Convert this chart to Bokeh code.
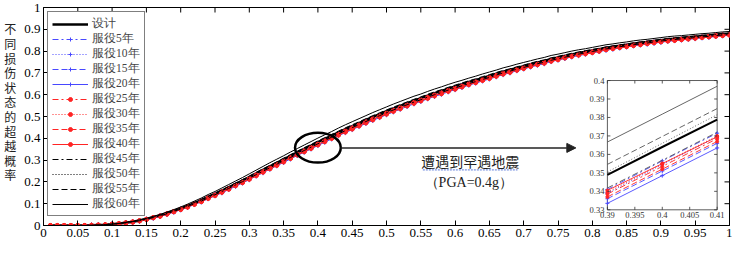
import numpy as np
from bokeh.plotting import figure
from bokeh.models import (Range1d, FixedTicker, Legend, LegendItem,
                          Label, Arrow, NormalHead)
from bokeh.core.properties import value
from bokeh.embed import file_html
from bokeh.resources import INLINE

# ---------------- data ----------------
pga = np.round(np.arange(1, 101) * 0.01, 2)   # 0.01 ... 1.00

design = [0.0, 0.0, 0.0, 0.0, 0.0, 0.0, 0.001, 0.002, 0.003, 0.006,
          0.009, 0.013, 0.017, 0.023, 0.030, 0.038, 0.046, 0.056, 0.067, 0.078,
          0.090, 0.103, 0.116, 0.131, 0.145, 0.160, 0.175, 0.191, 0.206, 0.222,
          0.239, 0.255, 0.271, 0.287, 0.303, 0.319, 0.335, 0.351, 0.366, 0.382,
          0.397, 0.412, 0.427, 0.442, 0.456, 0.470, 0.484, 0.498, 0.511, 0.524,
          0.537, 0.549, 0.561, 0.573, 0.584, 0.596, 0.607, 0.617, 0.628, 0.638,
          0.648, 0.658, 0.667, 0.677, 0.686, 0.696, 0.706, 0.714, 0.723, 0.731,
          0.740, 0.748, 0.755, 0.764, 0.771, 0.778, 0.785, 0.791, 0.797, 0.803,
          0.809, 0.815, 0.820, 0.825, 0.829, 0.834, 0.838, 0.842, 0.846, 0.850,
          0.854, 0.857, 0.860, 0.863, 0.866, 0.869, 0.872, 0.875, 0.878, 0.880]

y05 = [0.0, 0.0, 0.0, 0.0, 0.0, 0.0, 0.001, 0.002, 0.003, 0.006,
       0.009, 0.012, 0.016, 0.022, 0.029, 0.036, 0.044, 0.054, 0.064, 0.075,
       0.087, 0.099, 0.112, 0.127, 0.140, 0.155, 0.170, 0.185, 0.200, 0.216,
       0.233, 0.248, 0.264, 0.280, 0.296, 0.311, 0.327, 0.343, 0.358, 0.374,
       0.389, 0.404, 0.419, 0.434, 0.448, 0.462, 0.476, 0.490, 0.503, 0.516,
       0.529, 0.541, 0.553, 0.565, 0.576, 0.588, 0.599, 0.609, 0.620, 0.630,
       0.640, 0.650, 0.659, 0.669, 0.679, 0.689, 0.699, 0.707, 0.716, 0.724,
       0.733, 0.741, 0.748, 0.757, 0.765, 0.772, 0.779, 0.785, 0.791, 0.797,
       0.803, 0.809, 0.814, 0.819, 0.823, 0.829, 0.833, 0.837, 0.841, 0.845,
       0.849, 0.852, 0.855, 0.858, 0.861, 0.865, 0.868, 0.871, 0.874, 0.876]

y10 = [0.0, 0.0, 0.0, 0.0, 0.0, 0.0, 0.001, 0.002, 0.003, 0.006,
       0.008, 0.012, 0.016, 0.022, 0.028, 0.036, 0.044, 0.053, 0.064, 0.075,
       0.086, 0.099, 0.111, 0.126, 0.140, 0.154, 0.169, 0.185, 0.199, 0.215,
       0.232, 0.247, 0.263, 0.279, 0.295, 0.311, 0.326, 0.342, 0.357, 0.373,
       0.388, 0.403, 0.418, 0.433, 0.447, 0.461, 0.475, 0.489, 0.502, 0.515,
       0.528, 0.540, 0.552, 0.564, 0.575, 0.587, 0.598, 0.608, 0.619, 0.629,
       0.639, 0.649, 0.658, 0.669, 0.678, 0.688, 0.698, 0.706, 0.715, 0.723,
       0.732, 0.740, 0.747, 0.757, 0.764, 0.771, 0.778, 0.784, 0.790, 0.796,
       0.802, 0.808, 0.814, 0.819, 0.823, 0.828, 0.832, 0.836, 0.840, 0.844,
       0.848, 0.852, 0.855, 0.858, 0.861, 0.864, 0.867, 0.870, 0.873, 0.875]

y15 = [0.0, 0.0, 0.0, 0.0, 0.0, 0.0, 0.001, 0.002, 0.003, 0.006,
       0.008, 0.012, 0.016, 0.021, 0.028, 0.035, 0.043, 0.052, 0.063, 0.073,
       0.085, 0.097, 0.110, 0.124, 0.138, 0.152, 0.167, 0.182, 0.197, 0.213,
       0.229, 0.245, 0.261, 0.276, 0.292, 0.308, 0.323, 0.339, 0.354, 0.370,
       0.385, 0.400, 0.415, 0.430, 0.444, 0.458, 0.471, 0.485, 0.498, 0.512,
       0.525, 0.537, 0.549, 0.561, 0.572, 0.584, 0.595, 0.605, 0.616, 0.626,
       0.636, 0.646, 0.656, 0.666, 0.675, 0.685, 0.695, 0.703, 0.712, 0.721,
       0.730, 0.738, 0.745, 0.754, 0.761, 0.768, 0.776, 0.782, 0.788, 0.794,
       0.800, 0.806, 0.811, 0.817, 0.821, 0.826, 0.830, 0.834, 0.838, 0.842,
       0.847, 0.850, 0.853, 0.856, 0.859, 0.862, 0.865, 0.869, 0.872, 0.874]

y20 = [0.0, 0.0, 0.0, 0.0, 0.0, 0.0, 0.001, 0.002, 0.003, 0.005,
       0.008, 0.012, 0.015, 0.021, 0.027, 0.035, 0.042, 0.051, 0.062, 0.072,
       0.084, 0.096, 0.108, 0.123, 0.136, 0.150, 0.165, 0.180, 0.195, 0.210,
       0.227, 0.242, 0.258, 0.274, 0.289, 0.305, 0.321, 0.336, 0.351, 0.367,
       0.382, 0.397, 0.412, 0.426, 0.440, 0.454, 0.468, 0.482, 0.495, 0.508,
       0.521, 0.533, 0.546, 0.558, 0.569, 0.581, 0.592, 0.602, 0.613, 0.623,
       0.633, 0.644, 0.653, 0.663, 0.672, 0.682, 0.692, 0.700, 0.710, 0.718,
       0.727, 0.735, 0.742, 0.752, 0.759, 0.766, 0.773, 0.779, 0.786, 0.792,
       0.798, 0.804, 0.809, 0.814, 0.819, 0.824, 0.828, 0.832, 0.836, 0.841,
       0.845, 0.848, 0.851, 0.854, 0.857, 0.861, 0.864, 0.867, 0.870, 0.872]

y25 = [0.0, 0.0, 0.0, 0.0, 0.0, 0.0, 0.001, 0.002, 0.003, 0.006,
       0.008, 0.012, 0.016, 0.021, 0.028, 0.036, 0.043, 0.053, 0.063, 0.074,
       0.085, 0.098, 0.110, 0.125, 0.138, 0.153, 0.168, 0.183, 0.198, 0.213,
       0.230, 0.246, 0.261, 0.277, 0.293, 0.309, 0.324, 0.340, 0.355, 0.371,
       0.386, 0.401, 0.416, 0.431, 0.445, 0.459, 0.472, 0.486, 0.499, 0.513,
       0.526, 0.538, 0.550, 0.562, 0.573, 0.585, 0.596, 0.606, 0.617, 0.627,
       0.637, 0.647, 0.657, 0.667, 0.676, 0.686, 0.696, 0.704, 0.713, 0.721,
       0.731, 0.739, 0.746, 0.755, 0.762, 0.769, 0.776, 0.783, 0.789, 0.795,
       0.801, 0.807, 0.812, 0.817, 0.821, 0.827, 0.831, 0.835, 0.839, 0.843,
       0.847, 0.850, 0.853, 0.857, 0.860, 0.863, 0.866, 0.869, 0.872, 0.874]

y30 = [0.0, 0.0, 0.0, 0.0, 0.0, 0.0, 0.001, 0.002, 0.003, 0.006,
       0.009, 0.012, 0.016, 0.022, 0.029, 0.036, 0.044, 0.054, 0.064, 0.075,
       0.087, 0.099, 0.112, 0.127, 0.140, 0.155, 0.170, 0.185, 0.200, 0.216,
       0.233, 0.248, 0.264, 0.280, 0.296, 0.311, 0.327, 0.343, 0.358, 0.374,
       0.389, 0.404, 0.419, 0.434, 0.448, 0.462, 0.476, 0.490, 0.503, 0.516,
       0.529, 0.541, 0.553, 0.565, 0.576, 0.588, 0.599, 0.609, 0.620, 0.630,
       0.640, 0.650, 0.659, 0.669, 0.679, 0.689, 0.699, 0.707, 0.716, 0.724,
       0.733, 0.741, 0.748, 0.757, 0.765, 0.772, 0.779, 0.785, 0.791, 0.797,
       0.803, 0.809, 0.814, 0.819, 0.823, 0.829, 0.833, 0.837, 0.841, 0.845,
       0.849, 0.852, 0.855, 0.858, 0.861, 0.865, 0.868, 0.871, 0.874, 0.876]

y35 = [0.0, 0.0, 0.0, 0.0, 0.0, 0.0, 0.001, 0.002, 0.003, 0.005,
       0.008, 0.012, 0.016, 0.021, 0.028, 0.035, 0.043, 0.052, 0.063, 0.073,
       0.084, 0.097, 0.109, 0.124, 0.137, 0.152, 0.166, 0.182, 0.196, 0.212,
       0.228, 0.244, 0.260, 0.275, 0.291, 0.307, 0.323, 0.338, 0.353, 0.369,
       0.384, 0.399, 0.414, 0.428, 0.442, 0.456, 0.470, 0.484, 0.497, 0.510,
       0.523, 0.535, 0.548, 0.560, 0.571, 0.583, 0.594, 0.604, 0.615, 0.625,
       0.635, 0.646, 0.655, 0.665, 0.674, 0.684, 0.694, 0.702, 0.712, 0.720,
       0.729, 0.737, 0.744, 0.753, 0.760, 0.768, 0.775, 0.781, 0.787, 0.793,
       0.799, 0.806, 0.811, 0.816, 0.820, 0.825, 0.829, 0.834, 0.838, 0.842,
       0.846, 0.849, 0.852, 0.855, 0.859, 0.862, 0.865, 0.868, 0.871, 0.873]

y40 = [0.0, 0.0, 0.0, 0.0, 0.0, 0.0, 0.001, 0.002, 0.003, 0.006,
       0.008, 0.012, 0.016, 0.022, 0.028, 0.036, 0.043, 0.053, 0.064, 0.074,
       0.086, 0.098, 0.111, 0.125, 0.139, 0.154, 0.168, 0.184, 0.198, 0.214,
       0.231, 0.247, 0.262, 0.278, 0.294, 0.310, 0.325, 0.341, 0.356, 0.372,
       0.387, 0.402, 0.417, 0.432, 0.446, 0.460, 0.474, 0.488, 0.501, 0.514,
       0.527, 0.539, 0.551, 0.563, 0.574, 0.586, 0.597, 0.607, 0.618, 0.628,
       0.638, 0.648, 0.657, 0.668, 0.677, 0.687, 0.697, 0.705, 0.714, 0.722,
       0.731, 0.739, 0.747, 0.756, 0.763, 0.770, 0.777, 0.783, 0.789, 0.795,
       0.802, 0.808, 0.813, 0.818, 0.822, 0.827, 0.831, 0.835, 0.840, 0.844,
       0.848, 0.851, 0.854, 0.857, 0.860, 0.863, 0.866, 0.870, 0.873, 0.875]

y45 = [0.0, 0.0, 0.0, 0.0, 0.0, 0.0, 0.001, 0.002, 0.003, 0.006,
       0.009, 0.012, 0.016, 0.022, 0.029, 0.036, 0.044, 0.054, 0.065, 0.075,
       0.087, 0.100, 0.112, 0.127, 0.141, 0.156, 0.170, 0.186, 0.201, 0.217,
       0.233, 0.249, 0.265, 0.281, 0.297, 0.312, 0.328, 0.344, 0.359, 0.375,
       0.390, 0.405, 0.420, 0.435, 0.449, 0.463, 0.477, 0.491, 0.504, 0.517,
       0.530, 0.542, 0.554, 0.566, 0.577, 0.589, 0.600, 0.610, 0.621, 0.631,
       0.641, 0.651, 0.660, 0.670, 0.679, 0.690, 0.700, 0.708, 0.717, 0.725,
       0.734, 0.742, 0.749, 0.758, 0.765, 0.772, 0.779, 0.786, 0.792, 0.798,
       0.804, 0.810, 0.815, 0.820, 0.824, 0.829, 0.833, 0.837, 0.842, 0.846,
       0.850, 0.853, 0.856, 0.859, 0.862, 0.865, 0.868, 0.871, 0.874, 0.876]

y50 = [0.0, 0.0, 0.0, 0.0, 0.0, 0.0, 0.001, 0.002, 0.003, 0.006,
       0.009, 0.013, 0.017, 0.023, 0.030, 0.038, 0.047, 0.057, 0.068, 0.079,
       0.091, 0.104, 0.117, 0.132, 0.146, 0.161, 0.176, 0.192, 0.208, 0.224,
       0.241, 0.257, 0.273, 0.289, 0.305, 0.321, 0.337, 0.353, 0.368, 0.384,
       0.399, 0.414, 0.429, 0.444, 0.458, 0.472, 0.486, 0.500, 0.513, 0.526,
       0.539, 0.551, 0.563, 0.575, 0.586, 0.598, 0.609, 0.619, 0.630, 0.640,
       0.650, 0.660, 0.669, 0.679, 0.688, 0.698, 0.708, 0.716, 0.725, 0.733,
       0.742, 0.750, 0.757, 0.766, 0.773, 0.780, 0.787, 0.793, 0.799, 0.805,
       0.810, 0.816, 0.821, 0.826, 0.830, 0.835, 0.839, 0.843, 0.847, 0.851,
       0.855, 0.858, 0.861, 0.864, 0.867, 0.870, 0.873, 0.876, 0.879, 0.881]

y55 = [0.0, 0.0, 0.0, 0.0, 0.0, 0.0, 0.001, 0.002, 0.003, 0.006,
       0.009, 0.014, 0.018, 0.024, 0.031, 0.039, 0.048, 0.058, 0.069, 0.080,
       0.093, 0.106, 0.119, 0.134, 0.149, 0.164, 0.179, 0.195, 0.211, 0.227,
       0.244, 0.260, 0.276, 0.292, 0.309, 0.325, 0.341, 0.357, 0.372, 0.388,
       0.403, 0.418, 0.433, 0.448, 0.462, 0.476, 0.490, 0.504, 0.517, 0.530,
       0.543, 0.555, 0.567, 0.579, 0.590, 0.602, 0.613, 0.623, 0.634, 0.644,
       0.654, 0.664, 0.673, 0.683, 0.692, 0.702, 0.711, 0.719, 0.728, 0.736,
       0.745, 0.753, 0.760, 0.769, 0.776, 0.783, 0.790, 0.796, 0.802, 0.808,
       0.813, 0.819, 0.824, 0.829, 0.833, 0.838, 0.842, 0.846, 0.850, 0.854,
       0.858, 0.861, 0.864, 0.866, 0.869, 0.872, 0.875, 0.878, 0.881, 0.883]

y60 = [0.0, 0.0, 0.0, 0.0, 0.0, 0.0, 0.001, 0.002, 0.004, 0.007,
       0.010, 0.015, 0.019, 0.026, 0.033, 0.042, 0.051, 0.062, 0.073, 0.085,
       0.098, 0.112, 0.126, 0.142, 0.156, 0.172, 0.188, 0.204, 0.220, 0.237,
       0.254, 0.271, 0.288, 0.304, 0.320, 0.337, 0.353, 0.369, 0.385, 0.401,
       0.416, 0.431, 0.447, 0.462, 0.476, 0.490, 0.504, 0.518, 0.531, 0.544,
       0.557, 0.569, 0.581, 0.593, 0.603, 0.615, 0.626, 0.636, 0.647, 0.657,
       0.666, 0.676, 0.685, 0.695, 0.704, 0.713, 0.723, 0.731, 0.740, 0.748,
       0.756, 0.764, 0.771, 0.780, 0.786, 0.793, 0.800, 0.806, 0.811, 0.817,
       0.823, 0.829, 0.833, 0.838, 0.842, 0.847, 0.851, 0.854, 0.858, 0.862,
       0.866, 0.869, 0.871, 0.874, 0.877, 0.880, 0.882, 0.885, 0.888, 0.890]

labels = ["设计", "服役5年", "服役10年", "服役15年", "服役20年", "服役25年",
          "服役30年", "服役35年", "服役40年", "服役45年", "服役50年",
          "服役55年", "服役60年"]
main_values = [design, y05, y10, y15, y20, y25, y30, y35, y40, y45, y50, y55, y60]

# zoomed-in detail (PGA = 0.39 / 0.40 / 0.41)
inset_x = [0.39, 0.40, 0.41]
inset_design = [0.3489, 0.3640, 0.3788]
inset_05 = [0.3410, 0.3565, 0.3715]
inset_10 = [0.3390, 0.3545, 0.3695]
inset_15 = [0.3360, 0.3510, 0.3660]
inset_20 = [0.3335, 0.3485, 0.3635]
inset_25 = [0.3385, 0.3535, 0.3685]
inset_30 = [0.3395, 0.3550, 0.3700]
inset_35 = [0.3370, 0.3520, 0.3670]
inset_40 = [0.3405, 0.3550, 0.3695]
inset_45 = [0.3418, 0.3568, 0.3720]
inset_50 = [0.3505, 0.3660, 0.3815]
inset_55 = [0.3546, 0.3697, 0.3848]
inset_60 = [0.3667, 0.3818, 0.3969]
inset_values = [inset_design, inset_05, inset_10, inset_15, inset_20, inset_25,
                inset_30, inset_35, inset_40, inset_45, inset_50, inset_55, inset_60]

x_ticks = [0, 0.05, 0.1, 0.15, 0.2, 0.25, 0.3, 0.35, 0.4, 0.45, 0.5, 0.55, 0.6,
           0.65, 0.7, 0.75, 0.8, 0.85, 0.9, 0.95, 1]
x_tick_labels = ["0", "0.05", "0.1", "0.15", "0.2", "0.25", "0.3", "0.35", "0.4",
                 "0.45", "0.5", "0.55", "0.6", "0.65", "0.7", "0.75", "0.8",
                 "0.85", "0.9", "0.95", "1"]
y_ticks = [0, 0.1, 0.2, 0.3, 0.4, 0.5, 0.6, 0.7, 0.8, 0.9, 1]
y_tick_labels = ["0", "0.1", "0.2", "0.3", "0.4", "0.5", "0.6", "0.7", "0.8", "0.9", "1"]

inset_x_ticks = [0.39, 0.395, 0.4, 0.405, 0.41]
inset_x_labels = ["0.39", "0.395", "0.4", "0.405", "0.41"]
inset_y_ticks = [0.33, 0.34, 0.35, 0.36, 0.37, 0.38, 0.39, 0.40]
inset_y_labels = ["0.33", "0.34", "0.35", "0.36", "0.37", "0.38", "0.39", "0.4"]

y_title = "不同损伤状态的超越概率"
note_1 = "遭遇到罕遇地震"
note_2 = "（PGA=0.4g）"

# ---------------- styles ----------------
BLUE = "#4848ff"
RED = "#ff2424"
DD, DOT, DASH = "6 3 2 3", "1 2", "6 3"
colors = ["black"] + [BLUE] * 4 + [RED] * 4 + ["black"] * 4
dashes = ["solid", DD, DOT, DASH, "solid", DD, DOT, DASH, "solid", DD, DOT, DASH, "solid"]
markers = [None] + ["cross"] * 4 + ["circle"] * 4 + [None] * 4
widths = [2.5] + [1] * 12
inset_colors = ["black"] + [BLUE] * 4 + [RED] * 4 + ["#555555"] * 4
SERIF = "Liberation Serif"
CJK = "Noto Sans CJK SC"

p = figure(width=732, height=239, output_backend="svg", toolbar_location=None,
           x_range=Range1d(0, 1), y_range=Range1d(0, 1),
           min_border_left=43, min_border_right=3, min_border_top=7, min_border_bottom=4)
p.grid.visible = False
p.outline_line_color = "black"
p.background_fill_color = "white"
p.border_fill_color = "white"

for ax, ticks, labs in ((p.xaxis[0], x_ticks, x_tick_labels), (p.yaxis[0], y_ticks, y_tick_labels)):
    ax.ticker = FixedTicker(ticks=ticks)
    ax.major_label_overrides = {t: l for t, l in zip(ticks, labs)}
    ax.major_tick_in = 5
    ax.major_tick_out = 0
    ax.minor_tick_line_color = None
    ax.major_label_text_font = SERIF
    ax.major_label_text_font_size = "13px"
    ax.major_label_text_color = "black"
    ax.axis_line_color = "black"
    ax.major_tick_line_color = "black"
    ax.major_label_standoff = 3

# vertical stacked y-axis title
yax = p.yaxis[0]
yax.axis_label = "\n".join(y_title) + "\n \n "
yax.axis_label_text_font = CJK
yax.axis_label_text_font_size = "12px"
yax.axis_label_text_font_style = "normal"
yax.axis_label_text_color = "#222222"
yax.axis_label_text_line_height = 0.86
yax.axis_label_standoff = 5
if "axis_label_orientation" in yax.properties():
    yax.axis_label_orientation = "horizontal"

# top / right inward ticks (box style)
edge_kw = dict(length=5, length_units="screen", line_color="black", line_width=1)
p.ray(x=x_ticks, y=[1] * len(x_ticks), angle=-np.pi / 2, **edge_kw)
p.ray(x=[1] * len(y_ticks), y=y_ticks, angle=np.pi, **edge_kw)

# main curves
items = []
for lab, vals, c, d, m, w in zip(labels, main_values, colors, dashes, markers, widths):
    rs = [p.line(pga, vals, line_color=c, line_dash=d, line_width=w)]
    if m == "cross":
        rs.append(p.scatter(pga, vals, marker="cross", size=5, line_color=c, line_width=1))
    elif m == "circle":
        rs.append(p.scatter(pga, vals, marker="circle", size=4, line_color=c, fill_color=c))
    items.append(LegendItem(label=lab, renderers=rs))

# highlight ellipse and arrow
p.ellipse(x=[0.4], y=[0.357], width=0.0667, height=0.137, fill_color=None,
          line_color="black", line_width=2.5)
p.add_layout(Arrow(end=NormalHead(size=9, fill_color="#222222", line_color="#222222"),
                   x_start=0.433, y_start=0.356, x_end=0.776, y_end=0.356,
                   line_color="#222222", line_width=1.5))
p.add_layout(Label(x=0.622, y=0.296, text=note_1, text_font=CJK, text_font_size="14px",
                   text_align="center", text_baseline="middle", text_color="#222222"))
p.add_layout(Arrow(end=None, x_start=0.553, y_start=0.255, x_end=0.691, y_end=0.255,
                   line_color="#5a78d8", line_width=1, line_dash="2 1"))
p.add_layout(Label(x=0.62, y=0.195, text=note_2, text_font=SERIF, text_font_size="14px",
                   text_align="center", text_baseline="middle", text_color="#222222"))

# ---------------- inset ----------------
box_l, box_r, box_b, box_t = 0.822, 0.982, 0.072, 0.665
ix0, ix1, iy0, iy1 = 0.39, 0.41, 0.33, 0.40
sx = (ix1 - ix0) / (box_r - box_l)
sy = (iy1 - iy0) / (box_t - box_b)
p.extra_x_ranges = {"ix": Range1d(ix0 - box_l * sx, ix0 - box_l * sx + sx)}
p.extra_y_ranges = {"iy": Range1d(iy0 - box_b * sy, iy0 - box_b * sy + sy)}
kw = dict(x_range_name="ix", y_range_name="iy")

p.quad(left=[ix0], right=[ix1], bottom=[iy0], top=[iy1], fill_color="white",
       line_color="#333333", line_width=0.8, **kw)
for vals, c, d, m, w in zip(inset_values, inset_colors, dashes, markers, widths):
    p.line(inset_x, vals, line_color=c, line_dash=d, line_width=(2 if w > 1 else 0.9), **kw)
    if m == "cross":
        p.scatter(inset_x, vals, marker="cross", size=4, line_color=c, line_width=1, **kw)
    elif m == "circle":
        p.scatter(inset_x, vals, marker="circle", size=3, line_color=c, fill_color=c, **kw)

tick_kw = dict(length=3, length_units="screen", line_color="#333333", line_width=0.8, **kw)
p.ray(x=inset_x_ticks, y=[iy0] * len(inset_x_ticks), angle=np.pi / 2, **tick_kw)
p.ray(x=inset_x_ticks, y=[iy1] * len(inset_x_ticks), angle=-np.pi / 2, **tick_kw)
p.ray(x=[ix0] * len(inset_y_ticks), y=inset_y_ticks, angle=0, **tick_kw)
p.ray(x=[ix1] * len(inset_y_ticks), y=inset_y_ticks, angle=np.pi, **tick_kw)
p.text(x=inset_x_ticks, y=[iy0] * len(inset_x_ticks), text=inset_x_labels,
       text_font=value(SERIF), text_font_size=value("8.5px"), text_color="#333333",
       text_align="center", text_baseline="top", y_offset=2, **kw)
p.text(x=[ix0] * len(inset_y_ticks), y=inset_y_ticks, text=inset_y_labels,
       text_font=value(SERIF), text_font_size=value("8.5px"), text_color="#333333",
       text_align="right", text_baseline="middle", x_offset=-3, **kw)

# legend
legend = Legend(items=items, location="top_left", label_text_font=SERIF,
                label_text_font_size="11.5px", label_text_line_height=1.0,
                glyph_width=36, glyph_height=10, label_height=10, label_standoff=4,
                spacing=0, padding=4, margin=4,
                border_line_color="black", border_line_width=1,
                background_fill_color="white", background_fill_alpha=1)
p.add_layout(legend)

open("out.html", "w").write(file_html(p, INLINE))
